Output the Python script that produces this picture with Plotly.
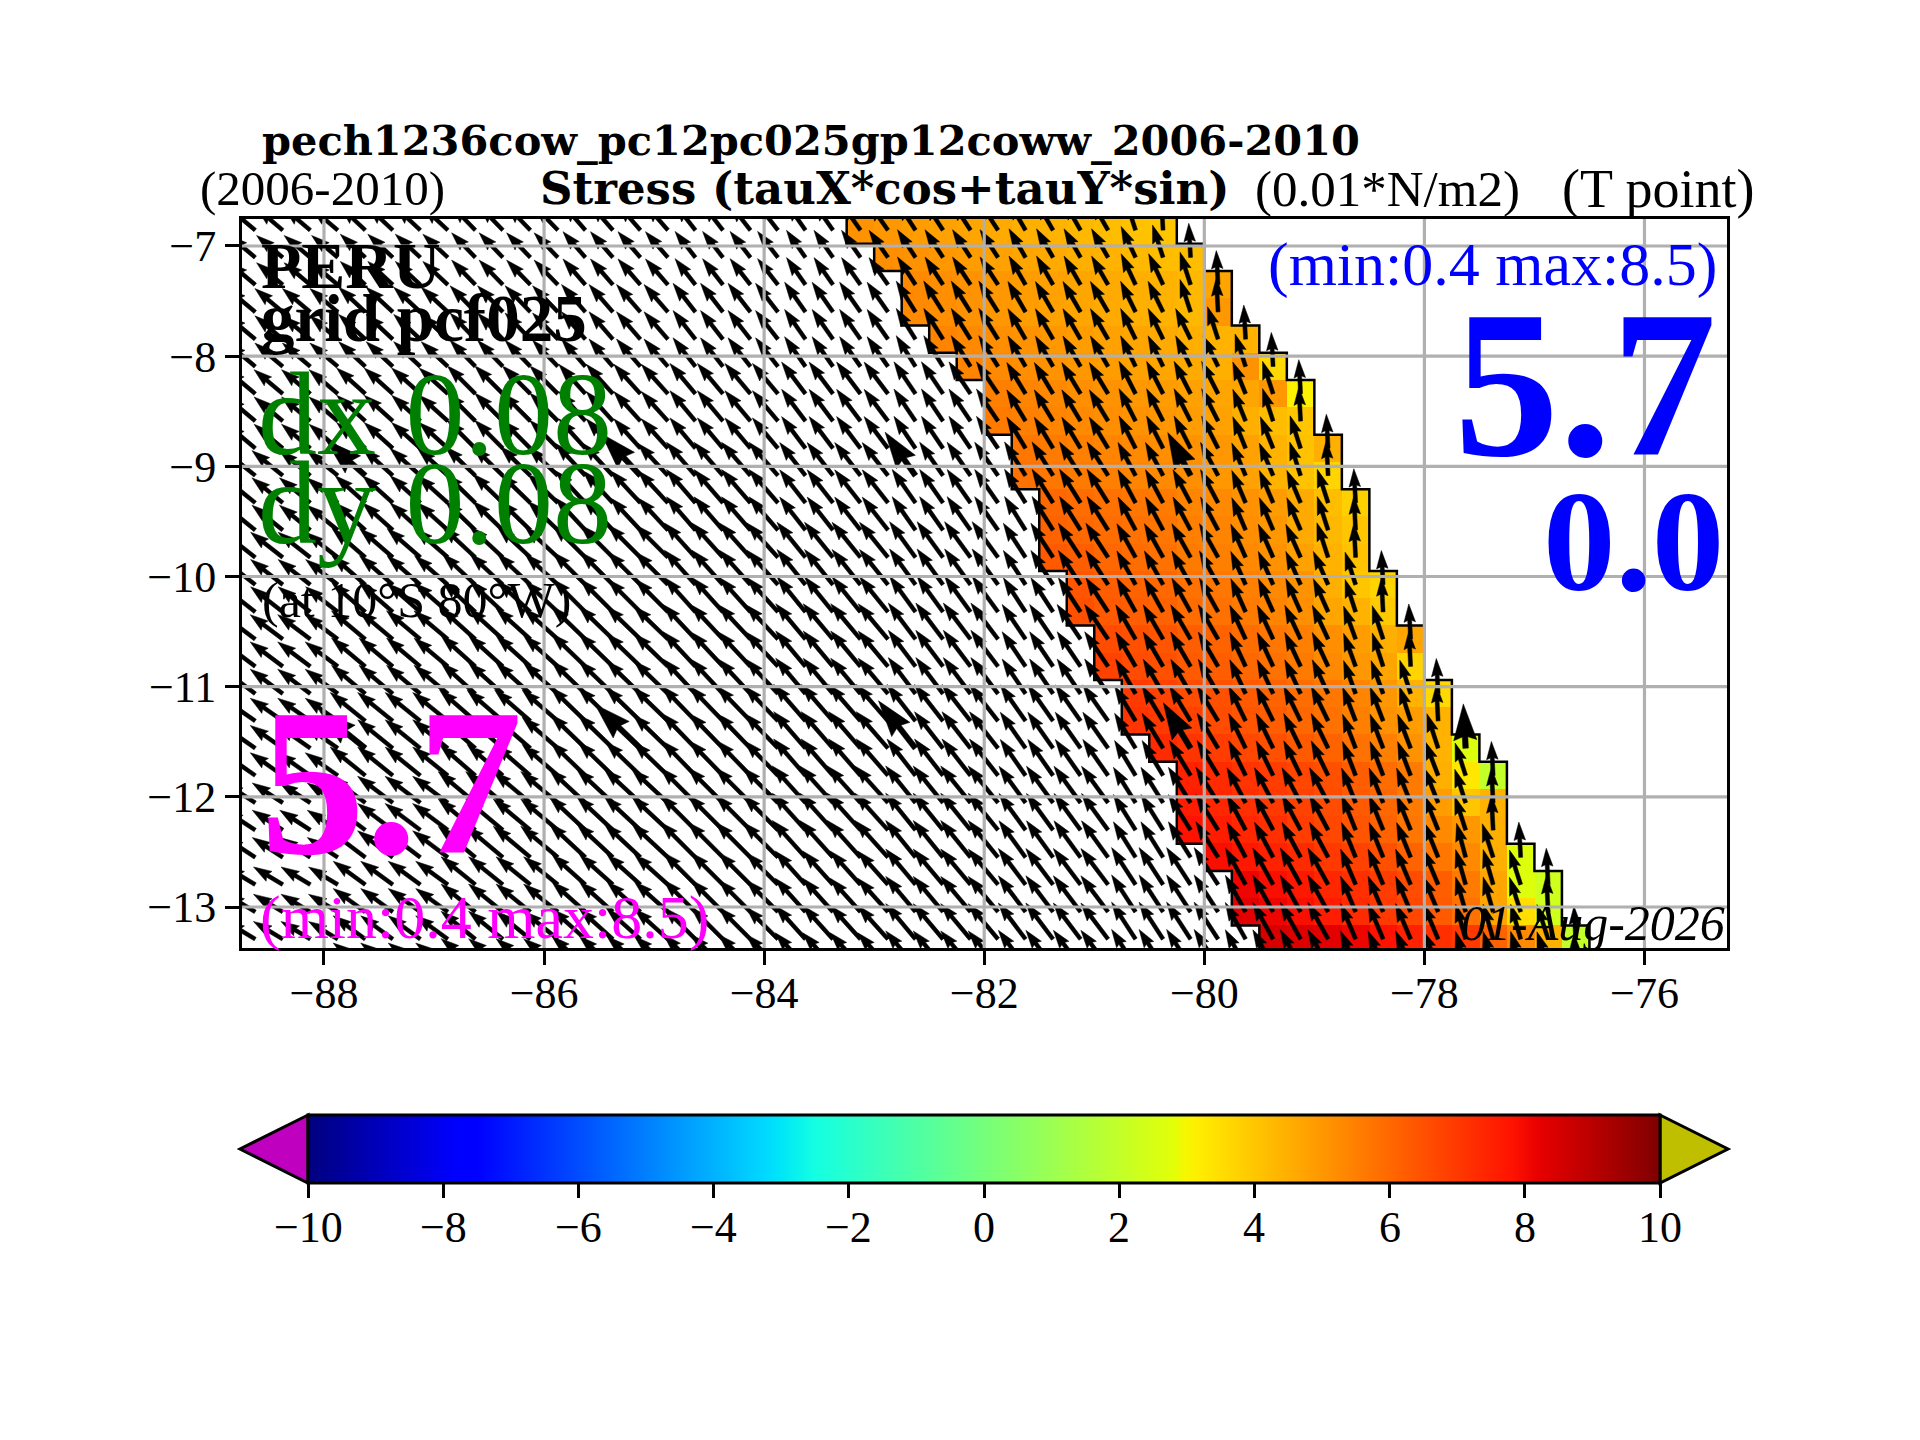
import plotly.graph_objects as go
import math

# model cell edges, one entry per row from the north
left_edge = [-83.25, -83.0, -82.75, -82.75, -82.5, -82.25, -82.0, -82.0, -81.75, -81.75,
             -81.5, -81.5, -81.5, -81.25, -81.25, -81.0, -81.0, -80.75, -80.75, -80.5,
             -80.25, -80.25, -80.25, -80.0, -79.75, -79.75, -79.5]
right_edge = [-80.25, -80.0, -79.75, -79.75, -79.5, -79.25, -79.0, -79.0, -78.75, -78.75,
              -78.5, -78.5, -78.5, -78.25, -78.25, -78.0, -78.0, -77.75, -77.75, -77.5,
              -77.25, -77.25, -77.25, -77.0, -76.75, -76.75, -76.5]

# stress in the 12 cells kept along the coast (offshore -> coast)
stress = [
    [5.1, 5.0, 4.9, 4.8, 4.7, 4.6, 4.5, 4.4, 4.3, 4.2, 4.1, 4.0],
    [5.2, 5.1, 5.0, 4.9, 4.8, 4.7, 4.6, 4.5, 4.4, 4.3, 4.2, 4.2],
    [5.3, 5.2, 5.1, 5.0, 4.9, 4.8, 4.7, 4.6, 4.5, 4.4, 4.3, 4.7],
    [5.3, 5.2, 5.1, 5.0, 4.9, 4.8, 4.7, 4.6, 4.5, 4.4, 4.3, 5.0],
    [5.4, 5.3, 5.2, 5.1, 5.0, 4.9, 4.8, 4.7, 4.6, 4.5, 4.4, 4.4],
    [5.4, 5.3, 5.2, 5.1, 5.0, 4.9, 4.8, 4.7, 4.6, 4.5, 5.1, 3.6],
    [5.5, 5.4, 5.3, 5.2, 5.1, 5.0, 4.9, 4.8, 4.7, 4.7, 5.0, 3.1],
    [5.6, 5.5, 5.4, 5.3, 5.2, 5.1, 5.0, 4.9, 4.8, 4.5, 4.2, 4.0],
    [5.7, 5.6, 5.5, 5.4, 5.3, 5.2, 5.1, 5.0, 4.8, 4.4, 4.1, 4.5],
    [5.8, 5.7, 5.6, 5.5, 5.4, 5.3, 5.2, 5.0, 4.8, 4.4, 4.1, 3.7],
    [6.0, 5.9, 5.8, 5.7, 5.6, 5.4, 5.3, 5.1, 4.9, 4.6, 4.2, 3.8],
    [6.1, 6.0, 5.9, 5.8, 5.7, 5.5, 5.4, 5.2, 5.0, 4.6, 4.3, 4.0],
    [6.3, 6.2, 6.0, 5.9, 5.8, 5.6, 5.5, 5.3, 5.1, 4.8, 4.4, 4.1],
    [6.4, 6.2, 6.1, 6.0, 5.8, 5.7, 5.5, 5.3, 5.1, 4.5, 4.0, 3.7],
    [6.5, 6.3, 6.2, 6.1, 5.9, 5.8, 5.6, 5.4, 5.2, 4.7, 4.4, 3.9],
    [6.6, 6.5, 6.4, 6.2, 6.1, 5.9, 5.7, 5.5, 5.2, 4.9, 4.5, 4.7],
    [6.8, 6.6, 6.5, 6.3, 6.2, 6.0, 5.8, 5.6, 5.3, 5.0, 4.7, 3.7],
    [7.0, 6.8, 6.6, 6.5, 6.3, 6.1, 5.9, 5.7, 5.4, 5.0, 4.4, 3.6],
    [7.1, 7.0, 6.8, 6.6, 6.4, 6.2, 6.0, 5.8, 5.5, 5.1, 4.9, 4.4],
    [7.3, 7.1, 6.9, 6.7, 6.5, 6.3, 6.1, 5.8, 5.5, 5.1, 4.4, 2.7],
    [7.5, 7.3, 7.1, 6.9, 6.7, 6.5, 6.2, 5.9, 5.6, 4.5, 3.3, 2.0],
    [7.6, 7.4, 7.2, 7.0, 6.8, 6.6, 6.3, 6.0, 5.6, 4.9, 4.0, 4.4],
    [7.8, 7.6, 7.4, 7.2, 6.9, 6.7, 6.4, 6.1, 5.7, 5.3, 5.0, 4.5],
    [7.9, 7.7, 7.5, 7.3, 7.0, 6.8, 6.5, 6.1, 5.7, 5.3, 4.5, 2.7],
    [8.1, 7.9, 7.7, 7.4, 7.2, 6.9, 6.6, 6.2, 5.6, 4.7, 2.7, 2.3],
    [8.3, 8.1, 7.9, 7.6, 7.3, 7.0, 6.7, 6.3, 5.8, 4.7, 3.5, 2.3],
    [8.5, 8.4, 8.3, 8.1, 7.8, 7.5, 7.2, 7.0, 6.1, 5.3, 4.4, 2.0],
]

# arrows read by block: 9 lat bands (3 rows each) x 13 lon bands (1 degree each)
arrow_angle = [
    [140, 137, 134, 131, 128, 125, 123, 120, 115, 110, 105, 100, 96],
    [140, 137, 134, 131, 128, 125, 122, 120, 116, 111, 106, 101, 96],
    [140, 138, 135, 132, 130, 127, 124, 121, 117, 112, 107, 101, 96],
    [141, 138, 136, 133, 131, 128, 125, 122, 118, 113, 108, 102, 96],
    [142, 139, 137, 135, 132, 129, 126, 123, 119, 114, 109, 103, 96],
    [143, 140, 138, 136, 133, 130, 127, 124, 120, 115, 110, 103, 96],
    [145, 141, 139, 136, 134, 131, 128, 125, 121, 116, 111, 104, 96],
    [147, 143, 140, 137, 135, 132, 129, 126, 122, 118, 112, 105, 95],
    [149, 144, 141, 138, 135, 132, 130, 127, 123, 119, 113, 106, 95],
]
arrow_len = [
    [.31, .31, .31, .31, .30, .30, .30, .30, .31, .31, .31, .29, .28],
    [.33, .33, .33, .33, .33, .33, .33, .32, .31, .31, .31, .29, .28],
    [.34, .35, .36, .36, .36, .36, .35, .33, .33, .31, .31, .29, .28],
    [.36, .37, .38, .40, .40, .38, .37, .36, .34, .32, .31, .29, .28],
    [.37, .40, .41, .42, .42, .41, .40, .37, .35, .33, .31, .29, .28],
    [.37, .40, .42, .43, .43, .42, .41, .38, .36, .34, .32, .30, .28],
    [.36, .41, .43, .44, .44, .44, .42, .40, .37, .35, .33, .31, .28],
    [.33, .40, .44, .45, .45, .45, .43, .41, .38, .36, .34, .32, .29],
    [.31, .36, .40, .41, .41, .41, .42, .41, .40, .38, .35, .33, .30],
]
coast_angle = [108, 93]  # last two arrows of a row turn along the coast
big_rows = [9, 19]
big_lons = [-87.625, -85.125, -82.625, -80.125, -77.625]

lon_ticks = [-88, -86, -84, -82, -80, -78, -76]
lat_ticks = [-7, -8, -9, -10, -11, -12, -13]
cbar_ticks = [-10, -8, -6, -4, -2, 0, 2, 4, 6, 8, 10]

jet = [[0, '#00007f'], [.11, '#0000ff'], [.125, '#0000ff'], [.34, '#00dbff'], [.35, '#00e6f7'],
       [.375, '#14ffe2'], [.64, '#e2ff08'], [.65, '#f7f600'], [.66, '#ffec00'], [.89, '#ff1300'],
       [.91, '#e80000'], [1, '#7f0000']]

# plot box in pixels
W, H = 1920, 1440
BOX_L, BOX_R, BOX_T, BOX_B = 242, 1727, 219, 948
SERIF = 'Liberation Serif'
WIDE = 'DejaVu Serif'

LAT_TOP = -6.98 + .2475
DLAT = .2475


def lat_row(i):
    return LAT_TOP - DLAT * (i + .5)


def arrow(x0, y0, angle, length, big=False):
    k = 2.0 if big else 1
    if big:
        length = length * 1.3
    w, hw, hl, hal = .036 * (1.4 if big else 1), .105 * k, .165 * k, .15 * k
    c, s = math.cos(math.radians(angle)), math.sin(math.radians(angle))
    pts = [(0, -w / 2), (length - hal, -w / 2), (length - hl, -hw / 2), (length, 0),
           (length - hl, hw / 2), (length - hal, w / 2), (0, w / 2), (0, -w / 2)]
    return [x0 + a * c - b * s for a, b in pts], [y0 + a * s + b * c for a, b in pts]


# heatmap grid
lons = [-83.125 + .25 * i for i in range(27)]
lats = [lat_row(i) for i in range(len(stress))]
z = []
for i, row in enumerate(stress):
    start = round((left_edge[i] - -83.25) / .25)
    z.append([None] * start + row + [None] * (27 - start - len(row)))

bar_l, bar_r, bar_t, bar_b = 308, 1660, 1115, 1183

fig = go.Figure()
fig.add_trace(go.Heatmap(
    x=lons, y=lats, z=z, zmin=-10, zmax=10, colorscale=jet, hoverinfo='skip',
    colorbar=dict(orientation='h', x=((bar_l + bar_r) / 2 - BOX_L) / (BOX_R - BOX_L), xanchor='center',
                  y=(BOX_B - bar_t) / (BOX_B - BOX_T), yanchor='top',
                  lenmode='pixels', len=bar_r - bar_l, thickness=bar_b - bar_t, thicknessmode='pixels',
                  xpad=0, ypad=0, outlinecolor='black', outlinewidth=3,
                  tickvals=cbar_ticks, ticks='outside', ticklen=14, tickwidth=3,
                  tickcolor='black', showticklabels=False)))

# coast and shelf outline
for edge in (left_edge, right_edge):
    sx, sy = [], []
    for i, e in enumerate(edge):
        sx += [e, e]
        sy += [LAT_TOP - DLAT * i, LAT_TOP - DLAT * (i + 1)]
    fig.add_trace(go.Scatter(x=sx, y=sy, mode='lines', line=dict(color='black', width=2.5),
                             hoverinfo='skip'))

# arrows, one polygon each
ax, ay = [], []
arrow_end = right_edge + [-76.5]
for i, end in enumerate(arrow_end):
    y0 = lat_row(i)
    n = round((end + 88.75) / .25)
    for j in range(n):
        x0 = -88.625 + .25 * j
        band = min(int(x0 + 88.75), 12)
        lat_band = min(i // 3, 8)
        ang = arrow_angle[lat_band][band]
        if j >= n - 2:
            ang = coast_angle[j - n + 2]
        px, py = arrow(x0, y0, ang, arrow_len[lat_band][band], i in big_rows and x0 in big_lons)
        ax += px + [None]
        ay += py + [None]
fig.add_trace(go.Scatter(x=ax, y=ay, mode='lines', fill='toself', fillcolor='black',
                         line=dict(color='black', width=0.5), hoverinfo='skip'))

# grid goes over the arrows here, so it can't be the axis grid
gx, gy = [], []
for t in lon_ticks:
    gx += [t, t, None]
    gy += [-14, -6, None]
for t in lat_ticks:
    gx += [-90, -75, None]
    gy += [t, t, None]
fig.add_trace(go.Scatter(x=gx, y=gy, mode='lines', line=dict(color='#b0b0b0', width=3.2),
                         hoverinfo='skip'))


def label(text, x, y, size, color='black', family=SERIF, bold=False, italic=False, anchor='left'):
    fig.add_annotation(
        text=('<b>%s</b>' % text) if bold else ('<i>%s</i>' % text) if italic else text,
        xref='paper', yref='paper', showarrow=False, xanchor=anchor, yanchor='middle',
        x=(x - BOX_L) / (BOX_R - BOX_L), y=(BOX_B - y) / (BOX_B - BOX_T),
        font=dict(family=family, size=size, color=color))


label('pech1236cow_pc12pc025gp12coww_2006-2010', 260, 140, 41.5, family=WIDE, bold=True)
label('(2006-2010)', 198, 189, 49)
label('Stress (tauX*cos+tauY*sin)', 538, 189, 45, family=WIDE, bold=True)
label('(0.01*N/m2)', 1253, 189, 51)
label('(T point)', 1560, 189, 54)
label('PERU', 259, 265, 66, bold=True)
label('grid pcf025', 259, 318, 67, bold=True)
label('dx 0.08', 256, 414, 118, color='green')
label('dy 0.08', 256, 503, 118, color='green')
label('(at 10°S 80°W)', 260, 600, 50)
label('5.7', 258, 782, 210, color='magenta', bold=True)
label('(min:0.4 max:8.5)', 258, 917, 62, color='magenta')
label('(min:0.4 max:8.5)', 1719, 264, 62, color='blue', anchor='right')
label('5.7', 1719, 384, 210, color='blue', bold=True, anchor='right')
label('0.0', 1726, 541, 145, color='blue', bold=True, anchor='right')
label('01-Aug-2026', 1727, 923, 50, italic=True, anchor='right')

# colorbar tick labels sit closer than the native ones
for t in cbar_ticks:
    label(str(t).replace('-', '\u2212'), bar_l + (t + 10) / 20 * (bar_r - bar_l), 1227, 44, anchor='center')


# colorbar end triangles
def paper_path(points):
    return 'M ' + ' L '.join('%.5f,%.5f' % ((x - BOX_L) / (BOX_R - BOX_L), (BOX_B - y) / (BOX_B - BOX_T))
                             for x, y in points) + ' Z'


fig.add_shape(type='path', xref='paper', yref='paper', fillcolor='#bf00bf', line=dict(color='black', width=3),
              path=paper_path([(bar_l, bar_t), (240, (bar_t + bar_b) / 2), (bar_l, bar_b)]))
fig.add_shape(type='path', xref='paper', yref='paper', fillcolor='#bfbf00', line=dict(color='black', width=3),
              path=paper_path([(bar_r, bar_t), (1728, (bar_t + bar_b) / 2), (bar_r, bar_b)]))

axis_style = dict(showgrid=False, zeroline=False, showline=True, mirror=True, linecolor='black', linewidth=3,
                  ticks='outside', ticklen=14, tickwidth=3, tickcolor='black', layer='above traces',
                  tickfont=dict(family=SERIF, size=44, color='black'))
fig.update_layout(
    width=W, height=H, autosize=False, showlegend=False, plot_bgcolor='white', paper_bgcolor='white',
    margin=dict(l=BOX_L, r=W - BOX_R, t=BOX_T, b=H - BOX_B, pad=0),
    xaxis=dict(range=[-88.745, -75.25], tickvals=lon_ticks, ticklabelstandoff=-10, **axis_style),
    yaxis=dict(range=[-13.372, -6.755], tickvals=lat_ticks, **axis_style),
)

fig.write_html("out.html", config={'displayModeBar': False},
               post_script="document.body.style.margin='0';")
